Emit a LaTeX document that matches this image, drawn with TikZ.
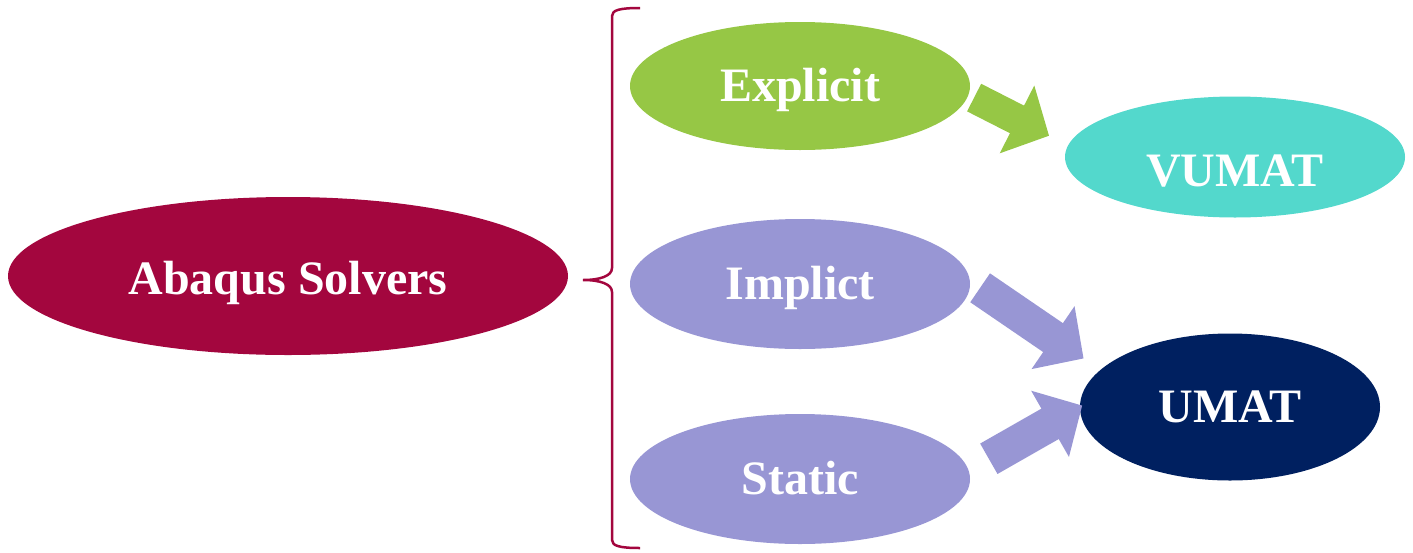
\documentclass[tikz,border=0pt]{standalone}
\usepackage{fontspec}
\setmainfont{Liberation Serif}
\usetikzlibrary{shapes.geometric,arrows.meta}
\newlength{\du}
\setlength{\du}{0.5pt}
\definecolor{solvercolor}{RGB}{163,6,62}
\definecolor{explicitcolor}{RGB}{150,199,69}
\definecolor{implicitcolor}{RGB}{152,150,212}
\definecolor{vumatcolor}{RGB}{83,216,204}
\definecolor{umatcolor}{RGB}{0,32,96}
\tikzset{
  bubble/.style={ellipse, inner sep=0pt, text=white, text height=15.9pt, text depth=0pt,
    font=\fontsize{24}{28}\selectfont\bfseries},
  blockarrow/.style={line width=17.5pt, -{Triangle[length=18.5pt,width=37pt]}},
}

\begin{document}
\begin{tikzpicture}
\pgftransformxscale{1.000000}
\pgftransformyscale{-1.000000}
\useasboundingbox (0\du,0\du) rectangle (1413\du,552\du);
% setfont left to latex
\node[bubble, fill=solvercolor, minimum width=560\du, minimum height=158\du, text height=18.4pt] (abaqus) at (288\du,276\du){Abaqus Solvers};
\node[bubble, fill=explicitcolor, minimum width=340\du, minimum height=128\du] (explicit) at (800\du,86\du){Explicit};
\node[bubble, fill=implicitcolor, minimum width=340\du, minimum height=130\du] (implict) at (800\du,284\du){Implict};
\node[bubble, fill=implicitcolor, minimum width=340\du, minimum height=130\du] (static) at (800\du,479\du){Static};
\node[bubble, fill=vumatcolor, minimum width=340\du, minimum height=121\du, text height=29.9pt] (vumat) at (1235\du,157\du){VUMAT};
\node[bubble, fill=umatcolor, minimum width=300\du, minimum height=147\du] (umat) at (1230\du,407\du){UMAT};
% brace
\draw[solvercolor, line width=2.5\du] (640\du,8\du) .. controls (620\du,8\du) and (612\du,10\du) .. (612\du,16\du)
  -- (612\du,268\du) .. controls (612\du,276\du) and (600\du,280\du) .. (583\du,280\du)
  .. controls (600\du,280\du) and (612\du,284\du) .. (612\du,292\du)
  -- (612\du,540\du) .. controls (612\du,546\du) and (620\du,548\du) .. (640\du,548\du);
% arrows
\draw[blockarrow, explicitcolor, line width=15.5pt, -{Triangle[length=18pt,width=37pt]}, shorten <=3pt, shorten >=10.5pt] (explicit.-3) -- (vumat.176);
\draw[blockarrow, implicitcolor, shorten <=6pt, shorten >=10pt] (implict.1) -- (umat.164);
\draw[blockarrow, implicitcolor, shorten <=11.5pt, shorten >=-1.5pt] (static.3) -- (umat.west);
\end{tikzpicture}
\end{document}
